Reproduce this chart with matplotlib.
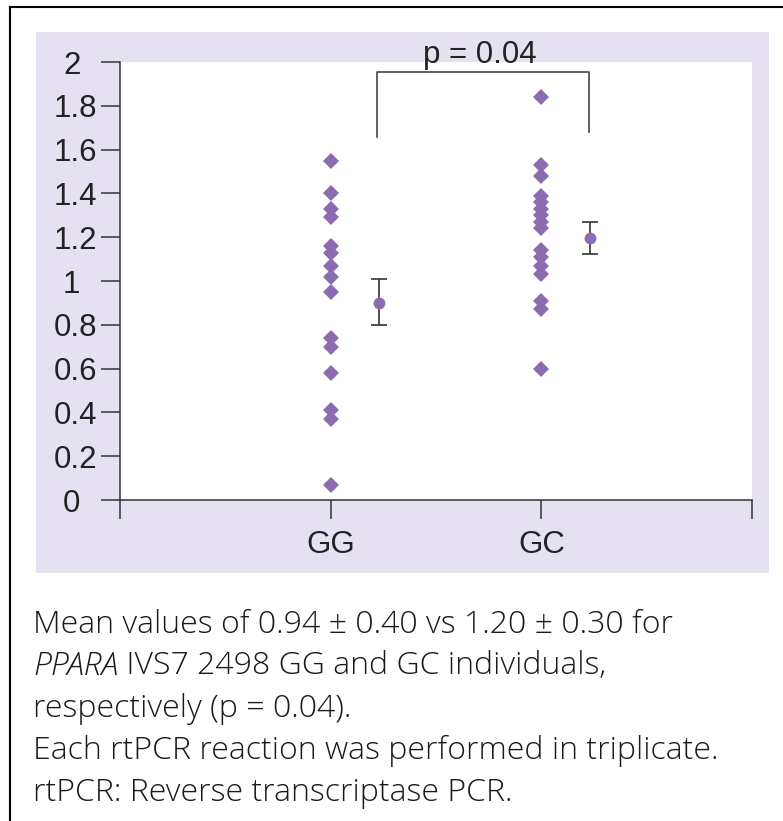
import numpy as np
import matplotlib.pyplot as plt
from matplotlib.patches import Rectangle
from matplotlib.lines import Line2D

# %% data
groups = ["GG", "GC"]
gg_values = [1.55, 1.40, 1.33, 1.29, 1.16, 1.13, 1.07, 1.02, 0.95,
             0.74, 0.70, 0.58, 0.41, 0.37, 0.07]
gc_values = [1.84, 1.53, 1.48, 1.39, 1.36, 1.33, 1.30, 1.27, 1.24,
             1.14, 1.11, 1.07, 1.03, 0.91, 0.87, 0.60]
means = [0.90, 1.195]
err_low = [0.80, 1.125]
err_high = [1.01, 1.27]
yticks = [0, 0.2, 0.4, 0.6, 0.8, 1, 1.2, 1.4, 1.6, 1.8, 2]
ytick_labels = ["0", "0.2", "0.4", "0.6", "0.8", "1", "1.2", "1.4", "1.6", "1.8", "2"]
p_label = "p = 0.04"
caption = [
    "Mean values of 0.94 \u00b1 0.40 vs 1.20 \u00b1 0.30 for",
    " IVS7 2498 GG and GC individuals,",
    "respectively (p = 0.04).",
    "Each rtPCR reaction was performed in triplicate.",
    "rtPCR: Reverse transcriptase PCR.",
]

purple = "#8B6CB0"
bg = "#E6E1F0"
dark = "#333333"
W, H = 783, 821

plt.rcParams["font.family"] = ["Liberation Sans", "DejaVu Sans"]

fig = plt.figure(figsize=(W / 100, H / 100), dpi=100)
fig.add_artist(Rectangle((36 / W, 1 - 573 / H), (769 - 36) / W, (573 - 32) / H,
                         transform=fig.transFigure, facecolor=bg, edgecolor="none", zorder=-1))
fig.add_artist(Line2D([10 / W, 10 / W], [1 - 7 / H, 0], transform=fig.transFigure, color="k", lw=1.5))
fig.add_artist(Line2D([10 / W, 1], [1 - 7 / H, 1 - 7 / H], transform=fig.transFigure, color="k", lw=1.5))

ax = fig.add_axes([120 / W, 1 - 500 / H, (752 - 120) / W, (500 - 62) / H])
ax.set_facecolor("white")

x_pos = np.arange(1, len(groups) + 1)
ax.plot(np.full(len(gg_values), x_pos[0]), gg_values, "D", color=purple, ms=8.5, mew=0, clip_on=False)
ax.plot(np.full(len(gc_values), x_pos[1]), gc_values, "D", color=purple, ms=8.5, mew=0, clip_on=False)

mean_x = x_pos + 0.23
means = np.array(means)
yerr = [means - np.array(err_low), np.array(err_high) - means]
ax.errorbar(mean_x, means, yerr=yerr, fmt="none", ecolor=dark, elinewidth=1.2, capsize=6, capthick=1.2)
ax.plot(mean_x, means, "o", color=purple, ms=8.5, mew=0, zorder=3)

# significance bracket
ax.plot([x_pos[0] + 0.22, x_pos[0] + 0.22, x_pos[1] + 0.225, x_pos[1] + 0.225],
        [1.657, 1.954, 1.954, 1.68], color="#444444", lw=1.2, clip_on=False)
ax.text(1.71, 1.995, p_label, ha="center", va="baseline", fontsize=22.5, color="#222222", clip_on=False)

ax.set_xlim(0, 3)
ax.set_ylim(0, 2)
ax.set_xticks([0, 1, 2, 3])
ax.set_xticklabels([""] + groups + [""])
ax.set_yticks(yticks)
ax.set_yticklabels(ytick_labels)
for side in ["top", "right"]:
    ax.spines[side].set_visible(False)
for side in ["left", "bottom"]:
    ax.spines[side].set_color(dark)
    ax.spines[side].set_linewidth(1.1)
ax.tick_params(axis="both", direction="out", length=13.5, width=1.1, color=dark,
               labelsize=22.5, labelcolor="#222222")
ax.tick_params(axis="y", pad=3)
ax.tick_params(axis="x", pad=8)
# whole-number labels sit further left in the original
for tick, lab in zip(ax.yaxis.get_major_ticks(), ytick_labels):
    if "." not in lab:
        tick.set_pad(15)

# caption
cap_kw = dict(fontsize=23, color="#1a1a1a", family=["Open Sans", "DejaVu Sans"], fontweight="light")
x0 = 33 / W
fig.text(x0, 1 - 633 / H, caption[0], va="baseline", **cap_kw)
t_it = fig.text(x0, 1 - 675 / H, "PPARA", va="baseline", style="italic", **cap_kw)
ax.annotate(caption[1], xy=(1, 0), xycoords=t_it, va="bottom", ha="left", annotation_clip=False, **cap_kw)
fig.text(x0, 1 - 717 / H, caption[2], va="baseline", **cap_kw)
fig.text(x0, 1 - 759 / H, caption[3], va="baseline", **cap_kw)
fig.text(x0, 1 - 801 / H, caption[4], va="baseline", **cap_kw)

fig.savefig("out.png", dpi=100, facecolor="white")
